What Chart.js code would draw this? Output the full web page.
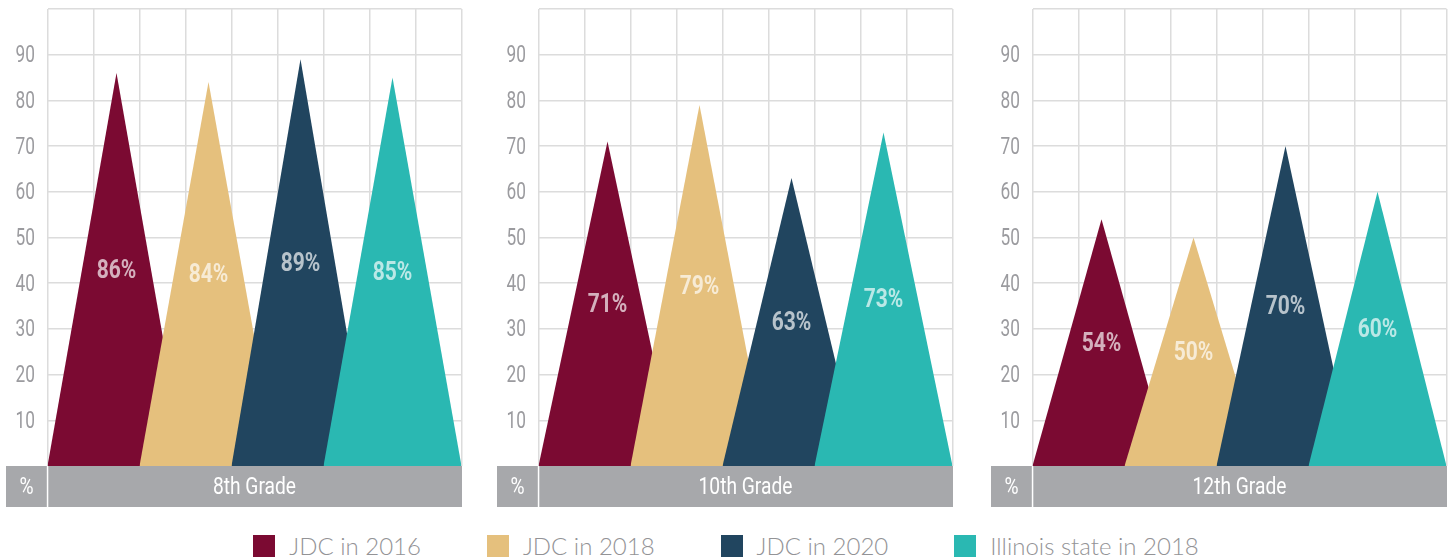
<!DOCTYPE html>
<html>
<head>
<meta charset="utf-8">
<script src="https://cdn.jsdelivr.net/npm/chart.js@4.4.1/dist/chart.umd.min.js"></script>
<style>
  body { margin: 0; background: #fff; width: 1452px; height: 559px; overflow: hidden; position: relative; }
  .panel { position: absolute; top: 0; width: 464px; height: 507px; }
  #legend { position: absolute; left: 0; top: 531px; width: 1452px; display: flex; justify-content: center;
            font-family: Lato, "Open Sans", sans-serif; font-weight: 300; font-size: 24px; color: #939396; }
  .item { display: flex; align-items: center; margin: 0 33px; }
  .swatch { width: 22px; height: 22px; margin-right: 14px; }
</style>
</head>
<body>
<div class="panel" style="left:0px"><canvas id="c0"></canvas></div>
<div class="panel" style="left:491px"><canvas id="c1"></canvas></div>
<div class="panel" style="left:985px"><canvas id="c2"></canvas></div>
<div id="legend"></div>
<script>
// ── Data ──────────────────────────────────────────────────────
const grades = ['8th Grade', '10th Grade', '12th Grade'];
const seriesNames = ['JDC in 2016', 'JDC in 2018', 'JDC in 2020', 'Illinois state in 2018'];
const jdc2016 = [86, 71, 54];
const jdc2018 = [84, 79, 50];
const jdc2020 = [89, 63, 70];
const illinois2018 = [85, 73, 60];
const yTickLabels = [10, 20, 30, 40, 50, 60, 70, 80, 90];

const seriesValues = [jdc2016, jdc2018, jdc2020, illinois2018];
const seriesColors = ['#7b0a32', '#e5c07d', '#21455f', '#2ab8b2'];

// no condensed face installed: squeeze Roboto horizontally
function narrowText(ctx, text, x, y, font, sx, align) {
  ctx.save();
  ctx.font = font;
  ctx.textAlign = align || 'center';
  ctx.textBaseline = 'middle';
  ctx.translate(x, y);
  ctx.scale(sx, 1);
  ctx.fillText(text, 0, 0);
  ctx.restore();
}

// ── Grey band, y labels and value labels ─────────────────────
const bandPlugin = {
  id: 'band',
  afterDraw(chart) {
    const { ctx, chartArea: a } = chart;
    const h = 41;
    ctx.save();
    ctx.fillStyle = '#a7a8ab';
    ctx.fillRect(a.left - 41.5, a.bottom, 40.8, h);
    ctx.fillRect(a.left + 0.8, a.bottom, a.right - a.left - 0.3, h);
    ctx.fillStyle = '#ffffff';
    narrowText(ctx, '%', a.left - 21, a.bottom + h / 2 + 1, '24px Roboto', 0.8);
    narrowText(ctx, chart.options.plugins.band.title, (a.left + a.right) / 2, a.bottom + h / 2 + 1, '24px Roboto', 0.8);

    // y tick labels, placed with the y scale
    const yScale = chart.scales.y;
    ctx.fillStyle = '#9b9b9f';
    yTickLabels.forEach(v => {
      narrowText(ctx, String(v), a.left - 12.5, yScale.getPixelForValue(v) + 1.5, '24px Roboto', 0.72, 'right');
    });
    ctx.restore();
  },
  afterDatasetsDraw(chart) {
    const { ctx } = chart;
    const yScale = chart.scales.y;
    ctx.save();
    ctx.fillStyle = 'rgba(255,255,255,0.68)';
    chart.data.datasets.forEach((ds, i) => {
      const peak = chart.getDatasetMeta(i).data[1];
      const v = ds.data[1].y;
      narrowText(ctx, v + '%', peak.x, yScale.getPixelForValue(v / 2) + 2, 'bold 25px Roboto', 0.84);
    });
    ctx.restore();
  }
};

// ── One panel per grade ──────────────────────────────────────
function renderPanel(g) {
  const datasets = seriesValues.map((vals, i) => ({
    label: seriesNames[i],
    data: [
      { x: i * 2, y: 0 },
      { x: i * 2 + 1.5, y: vals[g] },
      { x: i * 2 + 3, y: 0 }
    ],
    backgroundColor: seriesColors[i],
    borderWidth: 0,
    pointRadius: 0,
    tension: 0,
    fill: 'origin',
    order: seriesValues.length - i
  }));

  new Chart(document.getElementById('c' + g), {
    type: 'line',
    data: { datasets },
    options: {
      responsive: true,
      maintainAspectRatio: false,
      animation: false,
      layout: { padding: { top: 9, right: 2.5, bottom: 0, left: 0 } },
      plugins: {
        legend: { display: false },
        tooltip: { enabled: false },
        band: { title: grades[g] }
      },
      scales: {
        x: {
          type: 'linear',
          min: 0, max: 9,
          ticks: { display: false, stepSize: 1 },
          grid: { color: '#dcdcdc', lineWidth: 1.5, drawTicks: false },
          border: { display: false },
          afterFit(scale) { scale.height = 41; }
        },
        y: {
          min: 0, max: 100,
          ticks: { display: false, stepSize: 10 },
          grid: { color: '#dcdcdc', lineWidth: 1.5, drawTicks: false },
          border: { display: false },
          afterFit(scale) { scale.width = 47.5; }
        }
      }
    },
    plugins: [bandPlugin]
  });
}

grades.forEach((_, g) => renderPanel(g));

// ── Legend ───────────────────────────────────────────────────
document.getElementById('legend').innerHTML = seriesNames.map((n, i) => `
  <div class="item"><div class="swatch" style="background:${seriesColors[i]}"></div>${n}</div>
`).join('');
</script>
</body>
</html>
